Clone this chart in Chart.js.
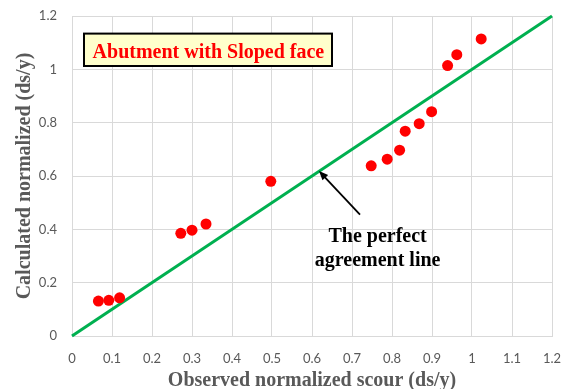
<!DOCTYPE html>
<html>
<head>
<meta charset="utf-8">
<script src="https://cdn.jsdelivr.net/npm/chart.js@4"></script>
<style>
  html, body { margin: 0; padding: 0; background: #fff; }
  #wrap { width: 570px; height: 389px; position: relative; }
</style>
</head>
<body>
<div id="wrap"><canvas id="scourChart"></canvas></div>
<script>
// observed vs calculated normalized scour depth (ds/y)
const observed = [0.066, 0.092, 0.119, 0.272, 0.300, 0.335, 0.497, 0.748, 0.788, 0.819, 0.833, 0.868, 0.899, 0.939, 0.962, 1.023];
const calculated = [0.131, 0.134, 0.143, 0.385, 0.397, 0.420, 0.580, 0.638, 0.663, 0.697, 0.768, 0.796, 0.841, 1.014, 1.055, 1.114];

// 1:1 agreement line
const lineX = [0, 1.2];
const lineY = [0, 1.2];

const xTickLabels = ['0', '0.1', '0.2', '0.3', '0.4', '0.5', '0.6', '0.7', '0.8', '0.9', '1', '1.1', '1.2'];
const yTickLabels = ['0', '0.2', '0.4', '0.6', '0.8', '1', '1.2'];

const boxTitle = 'Abutment with Sloped face';
const noteLines = ['The perfect', 'agreement line'];

const serif = '"Liberation Serif", "Times New Roman", serif';
const gray = '#595959';
const gridColor = '#d9d9d9';

Chart.defaults.font.family = 'Lato, sans-serif';

// title box + arrow note, placed in data units
const notesPlugin = {
  id: 'notes',
  afterDatasetsDraw(chart) {
    const { ctx, scales: { x, y } } = chart;
    ctx.save();

    // boxed caption
    const bx0 = x.getPixelForValue(0.03), bx1 = x.getPixelForValue(0.65);
    const by0 = y.getPixelForValue(1.134), by1 = y.getPixelForValue(1.0125);
    ctx.fillStyle = '#ffffcc';
    ctx.fillRect(bx0, by0, bx1 - bx0, by1 - by0);
    ctx.lineWidth = 2;
    ctx.strokeStyle = '#000';
    ctx.strokeRect(bx0, by0, bx1 - bx0, by1 - by0);
    ctx.fillStyle = '#ff0000';
    ctx.font = 'bold 20px ' + serif;
    ctx.textAlign = 'center';
    ctx.textBaseline = 'alphabetic';
    ctx.fillText(boxTitle, x.getPixelForValue(0.341), y.getPixelForValue(1.044));

    // arrow pointing at the 1:1 line
    const tx = x.getPixelForValue(0.6175), ty = y.getPixelForValue(0.619);
    const sx = x.getPixelForValue(0.72), sy = y.getPixelForValue(0.455);
    const ang = Math.atan2(ty - sy, tx - sx);
    const head = 10;
    ctx.strokeStyle = '#000';
    ctx.lineWidth = 1.8;
    ctx.beginPath();
    ctx.moveTo(sx, sy);
    ctx.lineTo(tx - Math.cos(ang) * head * 0.7, ty - Math.sin(ang) * head * 0.7);
    ctx.stroke();
    ctx.fillStyle = '#000';
    ctx.beginPath();
    ctx.moveTo(tx, ty);
    ctx.lineTo(tx - head * Math.cos(ang - 0.4), ty - head * Math.sin(ang - 0.4));
    ctx.lineTo(tx - head * Math.cos(ang + 0.4), ty - head * Math.sin(ang + 0.4));
    ctx.closePath();
    ctx.fill();

    // note text
    ctx.font = 'bold 20px ' + serif;
    ctx.fillText(noteLines[0], x.getPixelForValue(0.764), y.getPixelForValue(0.351));
    ctx.fillText(noteLines[1], x.getPixelForValue(0.764), y.getPixelForValue(0.261));
    ctx.restore();
  }
};

new Chart(document.getElementById('scourChart'), {
  type: 'scatter',
  data: {
    datasets: [
      {
        label: 'Calculated',
        data: observed.map((v, i) => ({ x: v, y: calculated[i] })),
        backgroundColor: '#ff0000',
        borderColor: '#ff0000',
        borderWidth: 0,
        pointRadius: 5.5,
        order: 1
      },
      {
        type: 'line',
        label: 'Perfect agreement',
        data: lineX.map((v, i) => ({ x: v, y: lineY[i] })),
        borderColor: '#00b050',
        borderWidth: 3,
        pointRadius: 0,
        fill: false,
        clip: false,
        order: 2
      }
    ]
  },
  options: {
    responsive: true,
    maintainAspectRatio: false,
    animation: false,
    layout: { padding: { top: 16, right: 18, left: 0, bottom: 0 } },
    plugins: {
      legend: { display: false },
      tooltip: { enabled: false }
    },
    scales: {
      x: {
        type: 'linear',
        min: 0,
        max: 1.2,
        afterFit: (s) => { s.height = 53; },
        ticks: {
          stepSize: 0.1,
          padding: 0,
          color: gray,
          font: { size: 13 },
          maxRotation: 0,
          autoSkip: false,
          callback: (v, i) => xTickLabels[i]
        },
        // invisible tick marks just push the labels off the axis
        grid: { color: gridColor, tickLength: 15, tickColor: 'rgba(0,0,0,0)' },
        border: { color: gridColor },
        title: {
          display: true,
          text: 'Observed normalized scour (ds/y)',
          color: gray,
          font: { family: serif, size: 20, weight: 'bold', lineHeight: 1 },
          padding: { top: 0, bottom: -2 }
        }
      },
      y: {
        type: 'linear',
        min: 0,
        max: 1.2,
        afterFit: (s) => { s.width = 72; },
        ticks: {
          stepSize: 0.2,
          padding: 0,
          color: gray,
          font: { size: 13 },
          callback: (v, i) => yTickLabels[i]
        },
        grid: { color: gridColor, tickLength: 15, tickColor: 'rgba(0,0,0,0)' },
        border: { color: gridColor },
        title: {
          display: true,
          text: 'Calculated normalized (ds/y)',
          color: gray,
          font: { family: serif, size: 20, weight: 'bold', lineHeight: 1 },
          padding: { top: 15, bottom: 0 }
        }
      }
    }
  },
  plugins: [notesPlugin]
});
</script>
</body>
</html>
